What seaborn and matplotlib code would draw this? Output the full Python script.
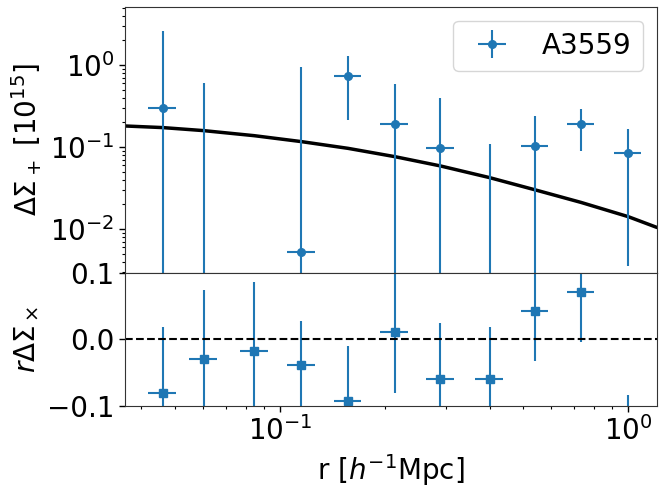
import numpy as np
import pandas as pd
import matplotlib
matplotlib.use("Agg")
import matplotlib.pyplot as plt
import seaborn as sns

# radial bins [h^-1 Mpc]
r = [0.0461, 0.0604, 0.0845, 0.1153, 0.157, 0.214, 0.289, 0.400, 0.541, 0.733, 1.0]
r_err = [0.0042, 0.0055, 0.0077, 0.0105, 0.0143, 0.0195, 0.0263, 0.0364, 0.0492, 0.0667, 0.091]

# tangential shear profile [10^15]
ds_plus = [0.30, -0.30, -0.50, 0.0052, 0.74, 0.19, 0.096, -0.10, 0.104, 0.19, 0.0845]
ds_plus_err = [2.30, 0.91, 0.30, 0.925, 0.53, 0.40, 0.30, 0.209, 0.135, 0.10, 0.081]

# cross component times r
ds_cross = [-0.081, -0.029, -0.017, -0.039, -0.092, 0.011, -0.059, -0.059, 0.043, 0.072, -0.20]
ds_cross_err = [0.10, 0.104, 0.104, 0.067, 0.082, 0.092, 0.084, 0.078, 0.076, 0.076, 0.116]

# model curve
r_model = [0.0359, 0.0461, 0.0604, 0.0845, 0.1153, 0.157, 0.214, 0.289, 0.400, 0.541, 0.733, 1.0, 1.21]
sigma_model = [0.180, 0.172, 0.158, 0.137, 0.116, 0.096, 0.076, 0.0586, 0.0422, 0.0299, 0.0210, 0.0141, 0.0104]

sns.set_style("white")
plt.rcParams["font.family"] = ["DejaVu Sans"]
plt.rcParams["font.size"] = 20
plt.rcParams["text.color"] = "black"
plt.rcParams["axes.labelcolor"] = "black"
plt.rcParams["xtick.color"] = "black"
plt.rcParams["ytick.color"] = "black"
plt.rcParams["axes.edgecolor"] = "#333333"
plt.rcParams["axes.linewidth"] = 0.8

fig = plt.figure(figsize=(6.64, 4.93), dpi=100)
gs = fig.add_gridspec(2, 1, height_ratios=[2, 1], hspace=0,
                      left=0.188, right=0.9895, top=0.986, bottom=0.1765)
ax1 = fig.add_subplot(gs[0])
ax2 = fig.add_subplot(gs[1], sharex=ax1)

model = pd.DataFrame({"r": r_model, "sigma": sigma_model})
sns.lineplot(data=model, x="r", y="sigma", color="black", lw=2.5, ax=ax1)
ax1.set_xscale("log")
ax1.set_yscale("log")
ax1.errorbar(r, ds_plus, xerr=r_err, yerr=ds_plus_err, fmt="o", ms=5.5,
             color="C0", elinewidth=1.5, label="A3559")
ax1.set_ylim(0.0029, 5.1)
ax1.set_ylabel(r"$\Delta\Sigma_+$ [$10^{15}$]")
ax1.set_xlabel("")
ax1.legend(loc="upper right", fontsize=20)

ax2.errorbar(r, ds_cross, xerr=r_err, yerr=ds_cross_err, fmt="s", ms=5.5,
             color="C0", elinewidth=1.5)
ax2.axhline(0, color="black", ls="--", lw=1.5)
ax2.set_ylim(-0.1, 0.1)
ax2.set_yticks([-0.1, 0.0, 0.1])
ax2.set_xlim(0.0359, 1.21)
ax2.set_ylabel(r"$r\Delta\Sigma_\times$")
ax2.set_xlabel(r"r [$h^{-1}$Mpc]")

for ax in (ax1, ax2):
    ax.tick_params(which="both", left=True, bottom=True, color="black")
    ax.tick_params(which="major", length=4, width=1.0)
    ax.tick_params(which="minor", length=2.5, width=0.8)
ax1.tick_params(which="both", bottom=False, labelbottom=False)

fig.savefig("out.png", dpi=100)
